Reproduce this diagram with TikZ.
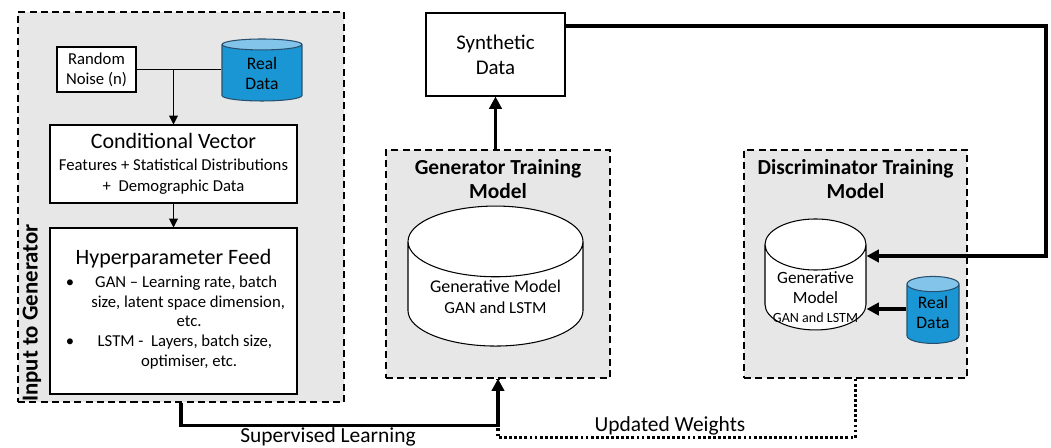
\documentclass[tikz,border=0pt]{standalone}
\usepackage{fontspec}
\setmainfont{Carlito}
\usepackage{array}
\usetikzlibrary{positioning, arrows.meta, shapes.geometric, calc}

\definecolor{panelgray}{RGB}{231,231,231}
\definecolor{dbblue}{RGB}{27,150,212}
\definecolor{dbtop}{RGB}{130,196,234}
\definecolor{dbedge}{RGB}{40,80,110}

% text lines inside a cylinder, lowered by #1
\newcommand{\dblines}[2]{\raisebox{-#1}{\begin{tabular}{@{}c@{}}#2\end{tabular}}}

\tikzset{
  panel/.style={draw, fill=panelgray, line width=0.8pt, dash pattern=on 4pt off 2.4pt},
  box/.style={draw, fill=white, line width=0.6pt, align=center, inner sep=1pt},
  db/.style={cylinder, shape border rotate=90, draw, line width=0.6pt, inner sep=0pt,
    text height=0pt, text depth=0.02cm, font=\fontsize{10}{11.5}\selectfont},
  whitedb/.style={db, fill=white},
  realdb/.style={db, cylinder uses custom fill, cylinder body fill=dbblue, cylinder end fill=dbtop, draw=dbedge},
  thin arrow/.style={-{Triangle[length=5pt,width=5pt]}, line width=0.6pt},
  thick arrow/.style={-{Triangle[length=7pt,width=7pt]}, line width=2pt},
  feedback/.style={line width=2pt, dash pattern=on 1.6pt off 1.3pt},
  title/.style={font=\fontsize{12.2}{14}\selectfont\bfseries, align=center, anchor=north}
}

\begin{document}
\begin{tikzpicture}[x=0.02cm, y=-0.02cm]
\useasboundingbox (0,0) rectangle (1051,448);

% input panel
\node[panel, minimum width=6.52cm, minimum height=7.8cm] (input) at (181,207) {};
\node[rotate=90, font=\fontsize{13}{15}\selectfont\bfseries] (inputlabel) at (32,313) {Input to Generator};

\node[box, minimum width=1.58cm, minimum height=0.9cm, font=\fontsize{9.5}{11.3}\selectfont] (noise) at (96.5,69.5) {Random\\Noise (n)};
\node[realdb, minimum width=1.6cm, minimum height=1.24cm, aspect=0.33] (realdata) at (262,73) {\dblines{0.15cm}{Real\\Data}};

\node[box, minimum width=4.94cm, minimum height=1.56cm, font=\fontsize{9.5}{12.4}\selectfont] (condvec) at (173.5,164)
  {{\fontsize{12.5}{14}\selectfont Conditional Vector}\\Features + Statistical Distributions\\+\ \ Demographic Data};

\node[box, minimum width=4.94cm, minimum height=3.32cm, font=\fontsize{9.5}{11.3}\selectfont] (hyper) at (173.5,311)
  {{\fontsize{12.5}{14}\selectfont Hyperparameter Feed}\\[2pt]
   \begin{tabular}{@{\hspace{0.16cm}}l@{\hspace{0.30cm}}>{\centering\arraybackslash}p{4cm}@{}}
   \textbullet & GAN -- Learning rate, batch\newline size, latent space dimension,\newline etc.\\
   \textbullet & LSTM -\ \ Layers, batch size,\newline optimiser, etc.
   \end{tabular}};

\draw[line width=0.6pt] (noise.east) -- (noise.east -| realdata.west);
\draw[thin arrow] (noise.east -| condvec.north) -- (condvec.north);
\draw[thin arrow] (condvec.south) -- (hyper.north);

% generator
\node[box, minimum width=2.78cm, minimum height=1.66cm, font=\fontsize{11.9}{14.2}\selectfont] (synth) at (495.5,54.5) {Synthetic\\Data};
\node[panel, minimum width=4.48cm, minimum height=4.56cm] (gen) at (498,264) {};
\node[title] (gentitle) at (498,153) {Generator Training\\Model};
\node[whitedb, minimum width=3.5cm, minimum height=2.8cm, aspect=0.54, font=\fontsize{10.2}{11.7}\selectfont] (gencyl) at (495.5,294)
  {\dblines{0.2cm}{Generative Model\\{\fontsize{9.6}{11}\selectfont GAN and LSTM}}};

\draw[thick arrow] (synth.south |- gen.north) -- (synth.south);

% discriminator
\node[panel, minimum width=4.46cm, minimum height=4.56cm] (disc) at (855.5,264) {};
\node[title] (disctitle) at (855.5,153) {Discriminator Training\\Model};
\node[whitedb, minimum width=2.02cm, minimum height=2.22cm, aspect=0.6, font=\fontsize{9.8}{11.3}\selectfont] (disccyl) at (815.5,287.5)
  {\dblines{0.33cm}{Generative\\Model\\{\fontsize{8}{9.5}\selectfont GAN and LSTM}}};
\node[realdb, minimum width=1.04cm, minimum height=1.34cm, aspect=0.46] (realdata2) at (933,314) {\dblines{0.1cm}{Real\\Data}};

\coordinate (corner1) at (1046,26);
\coordinate (corner2) at (1046,256);
\draw[thick arrow] (synth.east |- corner1) -- (corner1) -- (corner2) -- (corner2 -| disccyl.east);
\draw[thick arrow] ([yshift=0.1cm]realdata2.west) -- ([yshift=0.1cm]realdata2.west -| disccyl.east);

% training loops
\draw[thick arrow] (input.south) -- ++(0,23) -| (gen.south);
\draw[feedback] (disc.south) -- ++(0,59) -| (gen.south);
\node[font=\fontsize{12.2}{14}\selectfont] (suplabel) at (328,437) {Supervised Learning};
\node[font=\fontsize{12.2}{14}\selectfont] (updlabel) at (670,426) {Updated Weights};
\end{tikzpicture}
\end{document}
